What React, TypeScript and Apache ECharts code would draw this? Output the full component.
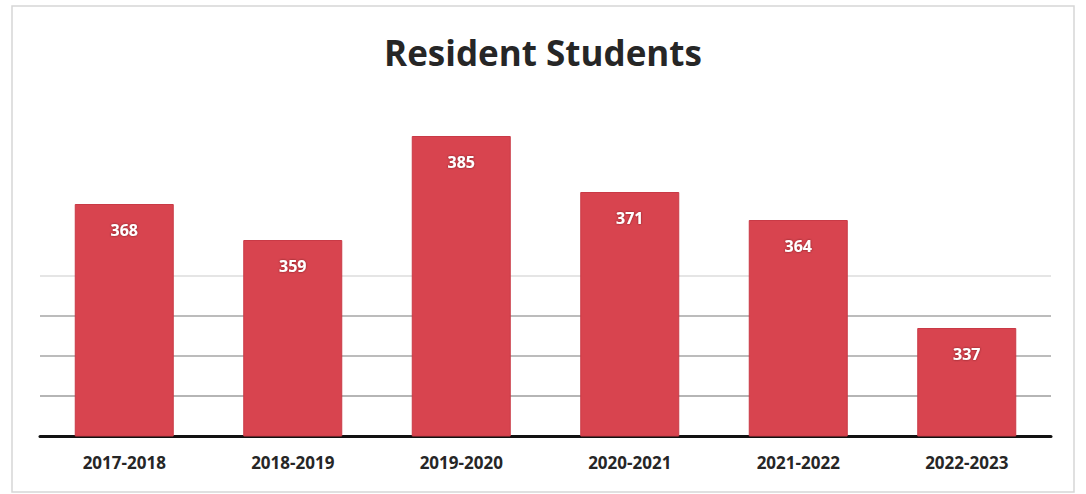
import React, { useEffect, useRef } from "react";
import * as echarts from "echarts";

const categories = ["2017-2018", "2018-2019", "2019-2020", "2020-2021", "2021-2022", "2022-2023"];
const values = [368, 359, 385, 371, 364, 337];
const titleText = "Resident Students";

export default function App() {
  const ref = useRef<HTMLDivElement>(null);
  useEffect(() => {
    document.body.style.margin = "0";
    const chart = echarts.init(ref.current!, null, { renderer: "svg" });
    chart.setOption({
      animation: false,
      backgroundColor: "#ffffff",
      title: {
        text: titleText,
        left: "center",
        top: 30,
        textStyle: { fontFamily: "Open Sans", fontWeight: "bold", fontSize: 35, color: "#262626" },
      },
      graphic: [
        {
          type: "rect",
          shape: { x: 12, y: 6, width: 1062, height: 486 },
          style: { fill: "none", stroke: "#d6d6d6", lineWidth: 1.5 },
          silent: true,
        },
      ],
      grid: { left: 40, right: 35, top: 76, bottom: 58 },
      xAxis: {
        type: "category",
        data: categories,
        axisLine: { show: true, lineStyle: { color: "#111", width: 3 } },
        axisTick: { show: false },
        axisLabel: {
          margin: 18,
          fontFamily: "Open Sans",
          fontWeight: "bold",
          fontSize: 17,
          color: "#262626",
        },
      },
      yAxis: {
        type: "value",
        min: 310,
        max: 400,
        interval: 10,
        axisLabel: { show: false },
        axisLine: { show: false },
        axisTick: { show: false },
        splitLine: {
          show: true,
          lineStyle: {
            width: 1.5,
            color: [
              "rgba(0,0,0,0)",
              "#9c9c9c",
              "#a6a6a6",
              "#a6a6a6",
              "#dddddd",
              "rgba(0,0,0,0)",
              "rgba(0,0,0,0)",
              "rgba(0,0,0,0)",
              "rgba(0,0,0,0)",
              "rgba(0,0,0,0)",
            ],
          },
        },
      },
      series: [
        {
          type: "bar",
          data: values,
          barWidth: 99,
          itemStyle: { color: "#d8444f", borderColor: "#c93a46", borderWidth: 1 },
          label: {
            show: true,
            position: "insideTop",
            distance: 18,
            fontFamily: "Open Sans",
            fontWeight: "bold",
            fontSize: 16,
            color: "#ffffff",
            textShadowColor: "rgba(60,0,0,0.6)",
            textShadowBlur: 2,
          },
        },
      ],
    });
    return () => chart.dispose();
  }, []);
  return <div ref={ref} style={{ width: 1086, height: 494 }} />;
}
